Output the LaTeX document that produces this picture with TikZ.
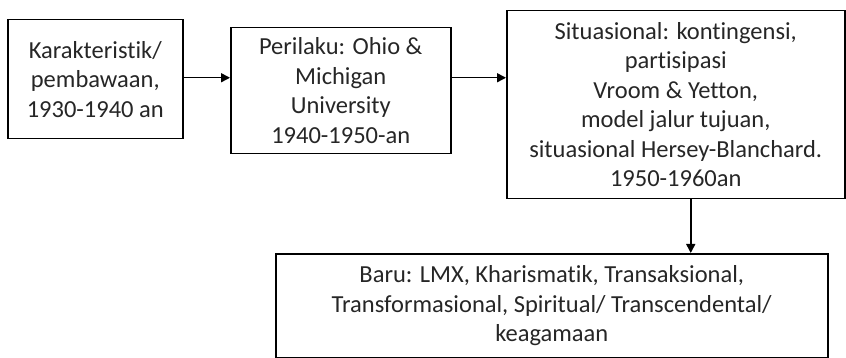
\documentclass[tikz,border=0pt]{standalone}
\usepackage{fontspec}
\setmainfont{Carlito}[Ligatures=NoCommon]
\usetikzlibrary{positioning,arrows.meta}
\tikzset{
    stage/.style={%
        draw, line width=1.5pt,
        anchor=north west,
        align=center,
        inner sep=2pt,
        text=black!85,
        font=\fontsize{24.5}{29.5}\selectfont
        },
    >={Triangle[length=9pt,width=9pt]}
}

\begin{document}
\begin{tikzpicture}[x=1pt,y=1pt]

\useasboundingbox (0,0) rectangle (846,-358);

\node[stage, minimum width=175pt, minimum height=119pt] (S1) at (7,-19) {Karakteristik/\\pembawaan,\\1930-1940 an};

\node[stage, minimum width=220pt, minimum height=126pt] (S2) at (230,-27) {Perilaku: Ohio \&\\Michigan\\University\\1940-1950-an};

\node[stage, minimum width=338pt, minimum height=188pt] (S3) at (506,-10) {Situasional: kontingensi,\\partisipasi\\Vroom \& Yetton,\\model jalur tujuan,\\situasional Hersey-Blanchard.\\1950-1960an};

\node[stage, minimum width=552pt, minimum height=104pt] (S4) at (275,-253) {Baru: LMX, Kharismatik, Transaksional,\\Transformasional, Spiritual/ Transcendental/\\keagamaan};

\draw[->, line width=1.5pt] ([yshift=1.5pt]S1.east) -- ([yshift=1.5pt]S1.east -| S2.west);

\draw[->, line width=1.5pt] ([yshift=1.5pt]S1.east -| S2.east) -- ([yshift=1.5pt]S1.east -| S3.west);

\draw[->, line width=1.5pt] ([xshift=15pt]S3.south) -- ([xshift=15pt]S3.south |- S4.north);

\end{tikzpicture}
\end{document}
